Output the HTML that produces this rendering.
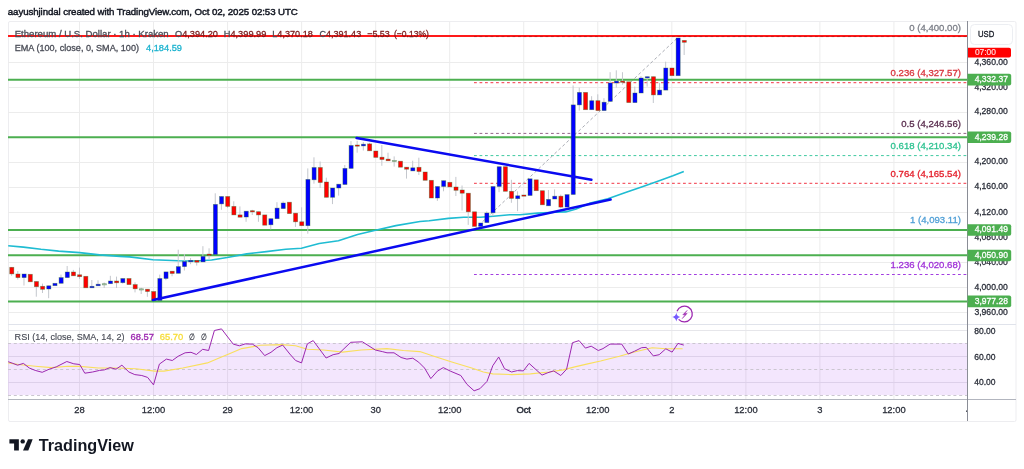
<!DOCTYPE html><html><head><meta charset="utf-8"><style>html,body{margin:0;padding:0;background:#fff;width:1024px;height:469px;overflow:hidden}svg{display:block;will-change:transform}text{font-family:"Liberation Sans",sans-serif}</style></head><body>
<svg width="1024" height="469" viewBox="0 0 1024 469">
<rect x="0" y="0" width="1024" height="469" fill="#fff"/>
<text x="7.8" y="15.2" font-size="9.7" fill="#131722" stroke="#131722" stroke-width="0.45" textLength="290" lengthAdjust="spacing">aayushjindal created with TradingView.com, Oct 02, 2025 02:53 UTC</text>
<rect x="8.5" y="21.5" width="1007.5" height="400" rx="1.5" fill="none" stroke="#ededf0" stroke-width="1"/>
<line x1="79.5" y1="22" x2="79.5" y2="399" stroke="#ececec" stroke-width="1"/>
<line x1="153.54" y1="22" x2="153.54" y2="399" stroke="#ececec" stroke-width="1"/>
<line x1="227.58" y1="22" x2="227.58" y2="399" stroke="#ececec" stroke-width="1"/>
<line x1="301.62" y1="22" x2="301.62" y2="399" stroke="#ececec" stroke-width="1"/>
<line x1="375.66" y1="22" x2="375.66" y2="399" stroke="#ececec" stroke-width="1"/>
<line x1="449.7" y1="22" x2="449.7" y2="399" stroke="#ececec" stroke-width="1"/>
<line x1="523.74" y1="22" x2="523.74" y2="399" stroke="#ececec" stroke-width="1"/>
<line x1="597.78" y1="22" x2="597.78" y2="399" stroke="#ececec" stroke-width="1"/>
<line x1="671.82" y1="22" x2="671.82" y2="399" stroke="#ececec" stroke-width="1"/>
<line x1="745.86" y1="22" x2="745.86" y2="399" stroke="#ececec" stroke-width="1"/>
<line x1="819.9" y1="22" x2="819.9" y2="399" stroke="#ececec" stroke-width="1"/>
<line x1="893.94" y1="22" x2="893.94" y2="399" stroke="#ececec" stroke-width="1"/>
<line x1="8" y1="62.5" x2="967" y2="62.5" stroke="#ececec" stroke-width="1"/>
<line x1="8" y1="87.5" x2="967" y2="87.5" stroke="#ececec" stroke-width="1"/>
<line x1="8" y1="112.5" x2="967" y2="112.5" stroke="#ececec" stroke-width="1"/>
<line x1="8" y1="137.5" x2="967" y2="137.5" stroke="#ececec" stroke-width="1"/>
<line x1="8" y1="162.5" x2="967" y2="162.5" stroke="#ececec" stroke-width="1"/>
<line x1="8" y1="187.5" x2="967" y2="187.5" stroke="#ececec" stroke-width="1"/>
<line x1="8" y1="212.5" x2="967" y2="212.5" stroke="#ececec" stroke-width="1"/>
<line x1="8" y1="237.5" x2="967" y2="237.5" stroke="#ececec" stroke-width="1"/>
<line x1="8" y1="262.5" x2="967" y2="262.5" stroke="#ececec" stroke-width="1"/>
<line x1="8" y1="287.5" x2="967" y2="287.5" stroke="#ececec" stroke-width="1"/>
<line x1="8" y1="312.5" x2="967" y2="312.5" stroke="#ececec" stroke-width="1"/>
<line x1="8" y1="330.5" x2="967" y2="330.5" stroke="#e6e6ea" stroke-width="1"/>
<line x1="8" y1="356.5" x2="967" y2="356.5" stroke="#e6e6ea" stroke-width="1"/>
<line x1="8" y1="382.5" x2="967" y2="382.5" stroke="#e6e6ea" stroke-width="1"/>
<rect x="8" y="343" width="959" height="52" fill="rgb(160,50,240)" fill-opacity="0.12"/>
<line x1="8" y1="343.5" x2="967" y2="343.5" stroke="#cbc6d0" stroke-width="1" stroke-dasharray="3 2.8"/>
<line x1="8" y1="369.5" x2="967" y2="369.5" stroke="#cbc6d0" stroke-width="1" stroke-dasharray="3 2.8"/>
<line x1="8" y1="395.5" x2="967" y2="395.5" stroke="#cbc6d0" stroke-width="1" stroke-dasharray="3 2.8"/>
<line x1="8" y1="324.5" x2="1016" y2="324.5" stroke="#e0e3eb" stroke-width="1"/>
<line x1="8" y1="399.5" x2="1016" y2="399.5" stroke="#b2b5be" stroke-width="1"/>
<line x1="967.5" y1="21" x2="967.5" y2="421" stroke="#8a8d96" stroke-width="1"/>
<line x1="474" y1="82.7" x2="967" y2="82.7" stroke="#f23645" stroke-width="1" stroke-dasharray="2.8 2.7"/>
<line x1="474" y1="133.4" x2="967" y2="133.4" stroke="#94648a" stroke-width="1" stroke-dasharray="2.8 2.7"/>
<line x1="474" y1="155.6" x2="967" y2="155.6" stroke="#3ec9a0" stroke-width="1" stroke-dasharray="2.8 2.7"/>
<line x1="474" y1="183.3" x2="967" y2="183.3" stroke="#f23645" stroke-width="1" stroke-dasharray="2.8 2.7"/>
<line x1="474" y1="229.5" x2="967" y2="229.5" stroke="#3d8fc9" stroke-width="1" stroke-dasharray="2.8 2.7"/>
<line x1="474" y1="274.5" x2="967" y2="274.5" stroke="#a23ee0" stroke-width="1" stroke-dasharray="2.8 2.7"/>
<line x1="474.5" y1="229.3" x2="678" y2="37.4" stroke="#a8abb3" stroke-width="1" stroke-dasharray="3 2.5"/>
<line x1="8" y1="79.8" x2="967" y2="79.8" stroke="#4caf50" stroke-width="2"/>
<line x1="8" y1="137.3" x2="967" y2="137.3" stroke="#4caf50" stroke-width="2"/>
<line x1="8" y1="230" x2="967" y2="230" stroke="#4caf50" stroke-width="2"/>
<line x1="8" y1="255.3" x2="967" y2="255.3" stroke="#4caf50" stroke-width="2"/>
<line x1="8" y1="301.6" x2="967" y2="301.6" stroke="#4caf50" stroke-width="2"/>
<line x1="8" y1="36" x2="967" y2="36" stroke="#ff1a1a" stroke-width="2.2"/>
<line x1="474" y1="36.6" x2="967" y2="36.6" stroke="#8a1010" stroke-opacity="0.45" stroke-width="1" stroke-dasharray="2.8 2.7"/>
<polyline fill="none" stroke="#1fbcd2" stroke-width="1.6" stroke-linejoin="round" points="8.2,245.8 23.4,247.1 41,249.3 58.6,251.1 79.7,252.6 99.6,254.9 120,256.4 129.5,256.9 153,259.8 178.4,260.8 195.9,261 211.6,260 227.2,257.5 246.7,253.9 266.3,251.6 285.8,249.3 301.4,248.2 319.2,243.5 338.4,240.7 357.6,234.5 375.5,230.3 395.9,225.6 420,221.5 429.2,220.7 448.4,218.4 463.7,217.2 480.4,217.3 493.2,216.2 509.8,214.7 520,214.8 537.6,213.1 555.2,212.2 565.7,211.9 576.2,208.9 590.3,203.1 607.9,198.7 625.5,192.5 643,186.4 660.6,180.2 672.9,175.8 683.8,171.4"/>
<line x1="11.63" y1="267.0" x2="11.63" y2="275.8" stroke="#c4c7cd" stroke-width="1"/>
<rect x="9.73" y="267.3" width="4.1" height="6.60" fill="#ff0000" stroke="#2a6a2a" stroke-opacity="0.5" stroke-width="0.7"/>
<line x1="17.80" y1="271.0" x2="17.80" y2="279.5" stroke="#c4c7cd" stroke-width="1"/>
<rect x="15.90" y="274.0" width="4.1" height="3.60" fill="#ff0000" stroke="#2a6a2a" stroke-opacity="0.5" stroke-width="0.7"/>
<line x1="23.97" y1="274.0" x2="23.97" y2="285.5" stroke="#c4c7cd" stroke-width="1"/>
<rect x="22.07" y="274.0" width="4.1" height="3.60" fill="#0000ff" stroke="#2a6a2a" stroke-opacity="0.5" stroke-width="0.7"/>
<rect x="28.24" y="274.3" width="4.1" height="7.50" fill="#ff0000" stroke="#2a6a2a" stroke-opacity="0.5" stroke-width="0.7"/>
<line x1="36.31" y1="281.5" x2="36.31" y2="296.7" stroke="#c4c7cd" stroke-width="1"/>
<rect x="34.41" y="281.5" width="4.1" height="5.20" fill="#ff0000" stroke="#2a6a2a" stroke-opacity="0.5" stroke-width="0.7"/>
<line x1="42.48" y1="283.6" x2="42.48" y2="293.0" stroke="#c4c7cd" stroke-width="1"/>
<rect x="40.58" y="286.3" width="4.1" height="3.00" fill="#ff0000" stroke="#2a6a2a" stroke-opacity="0.5" stroke-width="0.7"/>
<line x1="48.65" y1="285.8" x2="48.65" y2="298.2" stroke="#c4c7cd" stroke-width="1"/>
<rect x="46.75" y="285.8" width="4.1" height="3.20" fill="#0000ff" stroke="#2a6a2a" stroke-opacity="0.5" stroke-width="0.7"/>
<rect x="52.92" y="283.3" width="4.1" height="2.40" fill="#0000ff" stroke="#2a6a2a" stroke-opacity="0.5" stroke-width="0.7"/>
<line x1="60.99" y1="274.6" x2="60.99" y2="283.3" stroke="#c4c7cd" stroke-width="1"/>
<rect x="59.09" y="277.6" width="4.1" height="5.70" fill="#0000ff" stroke="#2a6a2a" stroke-opacity="0.5" stroke-width="0.7"/>
<line x1="67.16" y1="266.0" x2="67.16" y2="277.6" stroke="#c4c7cd" stroke-width="1"/>
<rect x="65.26" y="272.0" width="4.1" height="5.60" fill="#0000ff" stroke="#2a6a2a" stroke-opacity="0.5" stroke-width="0.7"/>
<line x1="73.33" y1="269.9" x2="73.33" y2="275.8" stroke="#c4c7cd" stroke-width="1"/>
<rect x="71.43" y="272.0" width="4.1" height="3.80" fill="#ff0000" stroke="#2a6a2a" stroke-opacity="0.5" stroke-width="0.7"/>
<line x1="79.50" y1="267.6" x2="79.50" y2="279.0" stroke="#c4c7cd" stroke-width="1"/>
<rect x="77.60" y="274.8" width="4.1" height="1.90" fill="#ff0000" stroke="#2a6a2a" stroke-opacity="0.5" stroke-width="0.7"/>
<rect x="83.77" y="276.3" width="4.1" height="11.50" fill="#ff0000" stroke="#2a6a2a" stroke-opacity="0.5" stroke-width="0.7"/>
<line x1="91.84" y1="280.0" x2="91.84" y2="287.8" stroke="#c4c7cd" stroke-width="1"/>
<rect x="89.94" y="286.3" width="4.1" height="1.50" fill="#0000ff" stroke="#2a6a2a" stroke-opacity="0.5" stroke-width="0.7"/>
<line x1="98.01" y1="280.3" x2="98.01" y2="285.8" stroke="#c4c7cd" stroke-width="1"/>
<rect x="96.11" y="284.2" width="4.1" height="1.60" fill="#0000ff" stroke="#2a6a2a" stroke-opacity="0.5" stroke-width="0.7"/>
<line x1="104.18" y1="282.5" x2="104.18" y2="288.0" stroke="#c4c7cd" stroke-width="1"/>
<rect x="102.28" y="283.7" width="4.1" height="1.20" fill="#b9ccb9" stroke="#2a6a2a" stroke-opacity="0.5" stroke-width="0.7"/>
<line x1="110.35" y1="275.8" x2="110.35" y2="283.7" stroke="#c4c7cd" stroke-width="1"/>
<rect x="108.45" y="281.0" width="4.1" height="2.70" fill="#0000ff" stroke="#2a6a2a" stroke-opacity="0.5" stroke-width="0.7"/>
<line x1="116.52" y1="276.6" x2="116.52" y2="288.0" stroke="#c4c7cd" stroke-width="1"/>
<rect x="114.62" y="281.0" width="4.1" height="1.80" fill="#ff0000" stroke="#2a6a2a" stroke-opacity="0.5" stroke-width="0.7"/>
<line x1="122.69" y1="278.5" x2="122.69" y2="283.6" stroke="#c4c7cd" stroke-width="1"/>
<rect x="120.79" y="278.5" width="4.1" height="4.20" fill="#0000ff" stroke="#2a6a2a" stroke-opacity="0.5" stroke-width="0.7"/>
<rect x="126.96" y="278.5" width="4.1" height="6.10" fill="#ff0000" stroke="#2a6a2a" stroke-opacity="0.5" stroke-width="0.7"/>
<line x1="135.03" y1="282.3" x2="135.03" y2="292.4" stroke="#c4c7cd" stroke-width="1"/>
<rect x="133.13" y="284.6" width="4.1" height="4.20" fill="#ff0000" stroke="#2a6a2a" stroke-opacity="0.5" stroke-width="0.7"/>
<line x1="141.20" y1="287.8" x2="141.20" y2="294.0" stroke="#c4c7cd" stroke-width="1"/>
<rect x="139.30" y="288.8" width="4.1" height="1.20" fill="#b9ccb9" stroke="#2a6a2a" stroke-opacity="0.5" stroke-width="0.7"/>
<line x1="147.37" y1="289.2" x2="147.37" y2="296.8" stroke="#c4c7cd" stroke-width="1"/>
<rect x="145.47" y="289.2" width="4.1" height="2.30" fill="#ff0000" stroke="#2a6a2a" stroke-opacity="0.5" stroke-width="0.7"/>
<rect x="151.64" y="291.5" width="4.1" height="9.00" fill="#ff0000" stroke="#2a6a2a" stroke-opacity="0.5" stroke-width="0.7"/>
<line x1="159.71" y1="274.6" x2="159.71" y2="300.5" stroke="#c4c7cd" stroke-width="1"/>
<rect x="157.81" y="278.5" width="4.1" height="22.00" fill="#0000ff" stroke="#2a6a2a" stroke-opacity="0.5" stroke-width="0.7"/>
<line x1="165.88" y1="271.9" x2="165.88" y2="280.2" stroke="#c4c7cd" stroke-width="1"/>
<rect x="163.98" y="271.9" width="4.1" height="6.60" fill="#0000ff" stroke="#2a6a2a" stroke-opacity="0.5" stroke-width="0.7"/>
<line x1="172.05" y1="271.2" x2="172.05" y2="276.3" stroke="#c4c7cd" stroke-width="1"/>
<rect x="170.15" y="271.2" width="4.1" height="2.30" fill="#ff0000" stroke="#2a6a2a" stroke-opacity="0.5" stroke-width="0.7"/>
<line x1="178.22" y1="249.7" x2="178.22" y2="273.3" stroke="#c4c7cd" stroke-width="1"/>
<rect x="176.32" y="266.6" width="4.1" height="6.70" fill="#0000ff" stroke="#2a6a2a" stroke-opacity="0.5" stroke-width="0.7"/>
<line x1="184.39" y1="253.9" x2="184.39" y2="270.5" stroke="#c4c7cd" stroke-width="1"/>
<rect x="182.49" y="261.5" width="4.1" height="5.10" fill="#0000ff" stroke="#2a6a2a" stroke-opacity="0.5" stroke-width="0.7"/>
<line x1="190.56" y1="258.0" x2="190.56" y2="264.2" stroke="#c4c7cd" stroke-width="1"/>
<rect x="188.66" y="260.4" width="4.1" height="1.40" fill="#0000ff" stroke="#2a6a2a" stroke-opacity="0.5" stroke-width="0.7"/>
<line x1="196.73" y1="260.4" x2="196.73" y2="265.6" stroke="#c4c7cd" stroke-width="1"/>
<rect x="194.83" y="260.4" width="4.1" height="1.80" fill="#ff0000" stroke="#2a6a2a" stroke-opacity="0.5" stroke-width="0.7"/>
<line x1="202.90" y1="246.2" x2="202.90" y2="261.9" stroke="#c4c7cd" stroke-width="1"/>
<rect x="201.00" y="256.4" width="4.1" height="5.50" fill="#0000ff" stroke="#2a6a2a" stroke-opacity="0.5" stroke-width="0.7"/>
<line x1="209.07" y1="248.3" x2="209.07" y2="259.4" stroke="#c4c7cd" stroke-width="1"/>
<rect x="207.17" y="254.1" width="4.1" height="1.20" fill="#ff0000" stroke="#2a6a2a" stroke-opacity="0.5" stroke-width="0.7"/>
<line x1="215.24" y1="193.3" x2="215.24" y2="254.5" stroke="#c4c7cd" stroke-width="1"/>
<rect x="213.34" y="204.4" width="4.1" height="50.10" fill="#0000ff" stroke="#2a6a2a" stroke-opacity="0.5" stroke-width="0.7"/>
<line x1="221.41" y1="196.5" x2="221.41" y2="209.8" stroke="#c4c7cd" stroke-width="1"/>
<rect x="219.51" y="196.5" width="4.1" height="7.40" fill="#0000ff" stroke="#2a6a2a" stroke-opacity="0.5" stroke-width="0.7"/>
<line x1="227.58" y1="196.5" x2="227.58" y2="208.0" stroke="#c4c7cd" stroke-width="1"/>
<rect x="225.68" y="196.5" width="4.1" height="9.90" fill="#ff0000" stroke="#2a6a2a" stroke-opacity="0.5" stroke-width="0.7"/>
<line x1="233.75" y1="201.3" x2="233.75" y2="214.9" stroke="#c4c7cd" stroke-width="1"/>
<rect x="231.85" y="206.4" width="4.1" height="8.50" fill="#ff0000" stroke="#2a6a2a" stroke-opacity="0.5" stroke-width="0.7"/>
<line x1="239.92" y1="206.4" x2="239.92" y2="217.2" stroke="#c4c7cd" stroke-width="1"/>
<rect x="238.02" y="214.9" width="4.1" height="2.30" fill="#ff0000" stroke="#2a6a2a" stroke-opacity="0.5" stroke-width="0.7"/>
<line x1="246.09" y1="211.2" x2="246.09" y2="221.8" stroke="#c4c7cd" stroke-width="1"/>
<rect x="244.19" y="211.2" width="4.1" height="5.80" fill="#0000ff" stroke="#2a6a2a" stroke-opacity="0.5" stroke-width="0.7"/>
<line x1="252.26" y1="209.8" x2="252.26" y2="215.0" stroke="#c4c7cd" stroke-width="1"/>
<rect x="250.36" y="210.7" width="4.1" height="1.20" fill="#ff0000" stroke="#2a6a2a" stroke-opacity="0.5" stroke-width="0.7"/>
<line x1="258.43" y1="211.7" x2="258.43" y2="221.8" stroke="#c4c7cd" stroke-width="1"/>
<rect x="256.53" y="211.7" width="4.1" height="3.20" fill="#ff0000" stroke="#2a6a2a" stroke-opacity="0.5" stroke-width="0.7"/>
<rect x="262.70" y="214.9" width="4.1" height="10.30" fill="#ff0000" stroke="#2a6a2a" stroke-opacity="0.5" stroke-width="0.7"/>
<line x1="270.77" y1="218.7" x2="270.77" y2="229.4" stroke="#c4c7cd" stroke-width="1"/>
<rect x="268.87" y="218.7" width="4.1" height="6.10" fill="#0000ff" stroke="#2a6a2a" stroke-opacity="0.5" stroke-width="0.7"/>
<line x1="276.94" y1="202.2" x2="276.94" y2="218.7" stroke="#c4c7cd" stroke-width="1"/>
<rect x="275.04" y="208.1" width="4.1" height="10.60" fill="#0000ff" stroke="#2a6a2a" stroke-opacity="0.5" stroke-width="0.7"/>
<line x1="283.11" y1="201.3" x2="283.11" y2="208.6" stroke="#c4c7cd" stroke-width="1"/>
<rect x="281.21" y="203.0" width="4.1" height="5.60" fill="#0000ff" stroke="#2a6a2a" stroke-opacity="0.5" stroke-width="0.7"/>
<rect x="287.38" y="202.2" width="4.1" height="11.40" fill="#ff0000" stroke="#2a6a2a" stroke-opacity="0.5" stroke-width="0.7"/>
<line x1="295.45" y1="213.2" x2="295.45" y2="226.9" stroke="#c4c7cd" stroke-width="1"/>
<rect x="293.55" y="213.2" width="4.1" height="8.60" fill="#ff0000" stroke="#2a6a2a" stroke-opacity="0.5" stroke-width="0.7"/>
<line x1="301.62" y1="207.3" x2="301.62" y2="225.7" stroke="#c4c7cd" stroke-width="1"/>
<rect x="299.72" y="221.8" width="4.1" height="3.90" fill="#ff0000" stroke="#2a6a2a" stroke-opacity="0.5" stroke-width="0.7"/>
<line x1="307.79" y1="168.4" x2="307.79" y2="233.7" stroke="#c4c7cd" stroke-width="1"/>
<rect x="305.89" y="179.4" width="4.1" height="46.30" fill="#0000ff" stroke="#2a6a2a" stroke-opacity="0.5" stroke-width="0.7"/>
<line x1="313.96" y1="157.3" x2="313.96" y2="183.7" stroke="#c4c7cd" stroke-width="1"/>
<rect x="312.06" y="167.5" width="4.1" height="12.30" fill="#0000ff" stroke="#2a6a2a" stroke-opacity="0.5" stroke-width="0.7"/>
<line x1="320.13" y1="161.5" x2="320.13" y2="188.0" stroke="#c4c7cd" stroke-width="1"/>
<rect x="318.23" y="167.5" width="4.1" height="15.00" fill="#ff0000" stroke="#2a6a2a" stroke-opacity="0.5" stroke-width="0.7"/>
<line x1="326.30" y1="177.7" x2="326.30" y2="197.3" stroke="#c4c7cd" stroke-width="1"/>
<rect x="324.40" y="182.0" width="4.1" height="15.30" fill="#ff0000" stroke="#2a6a2a" stroke-opacity="0.5" stroke-width="0.7"/>
<line x1="332.47" y1="188.0" x2="332.47" y2="204.1" stroke="#c4c7cd" stroke-width="1"/>
<rect x="330.57" y="188.0" width="4.1" height="9.30" fill="#0000ff" stroke="#2a6a2a" stroke-opacity="0.5" stroke-width="0.7"/>
<line x1="338.64" y1="184.2" x2="338.64" y2="195.6" stroke="#c4c7cd" stroke-width="1"/>
<rect x="336.74" y="184.2" width="4.1" height="3.80" fill="#0000ff" stroke="#2a6a2a" stroke-opacity="0.5" stroke-width="0.7"/>
<line x1="344.81" y1="165.0" x2="344.81" y2="184.5" stroke="#c4c7cd" stroke-width="1"/>
<rect x="342.91" y="168.4" width="4.1" height="16.10" fill="#0000ff" stroke="#2a6a2a" stroke-opacity="0.5" stroke-width="0.7"/>
<line x1="350.98" y1="141.1" x2="350.98" y2="168.4" stroke="#c4c7cd" stroke-width="1"/>
<rect x="349.08" y="145.5" width="4.1" height="22.90" fill="#0000ff" stroke="#2a6a2a" stroke-opacity="0.5" stroke-width="0.7"/>
<line x1="357.15" y1="140.8" x2="357.15" y2="152.7" stroke="#c4c7cd" stroke-width="1"/>
<rect x="355.25" y="145.0" width="4.1" height="1.20" fill="#ff0000" stroke="#2a6a2a" stroke-opacity="0.5" stroke-width="0.7"/>
<line x1="363.32" y1="142.0" x2="363.32" y2="150.5" stroke="#c4c7cd" stroke-width="1"/>
<rect x="361.42" y="144.2" width="4.1" height="1.70" fill="#0000ff" stroke="#2a6a2a" stroke-opacity="0.5" stroke-width="0.7"/>
<line x1="369.49" y1="142.8" x2="369.49" y2="150.8" stroke="#c4c7cd" stroke-width="1"/>
<rect x="367.59" y="143.9" width="4.1" height="6.90" fill="#ff0000" stroke="#2a6a2a" stroke-opacity="0.5" stroke-width="0.7"/>
<rect x="373.76" y="151.0" width="4.1" height="6.40" fill="#ff0000" stroke="#2a6a2a" stroke-opacity="0.5" stroke-width="0.7"/>
<line x1="381.83" y1="145.0" x2="381.83" y2="165.8" stroke="#c4c7cd" stroke-width="1"/>
<rect x="379.93" y="157.2" width="4.1" height="2.30" fill="#ff0000" stroke="#2a6a2a" stroke-opacity="0.5" stroke-width="0.7"/>
<line x1="388.00" y1="152.7" x2="388.00" y2="160.8" stroke="#c4c7cd" stroke-width="1"/>
<rect x="386.10" y="159.1" width="4.1" height="1.70" fill="#ff0000" stroke="#2a6a2a" stroke-opacity="0.5" stroke-width="0.7"/>
<line x1="394.17" y1="156.4" x2="394.17" y2="166.6" stroke="#c4c7cd" stroke-width="1"/>
<rect x="392.27" y="160.4" width="4.1" height="1.20" fill="#b9ccb9" stroke="#2a6a2a" stroke-opacity="0.5" stroke-width="0.7"/>
<rect x="398.44" y="161.2" width="4.1" height="6.00" fill="#ff0000" stroke="#2a6a2a" stroke-opacity="0.5" stroke-width="0.7"/>
<line x1="406.51" y1="167.2" x2="406.51" y2="178.6" stroke="#c4c7cd" stroke-width="1"/>
<rect x="404.61" y="167.2" width="4.1" height="2.00" fill="#ff0000" stroke="#2a6a2a" stroke-opacity="0.5" stroke-width="0.7"/>
<line x1="412.68" y1="160.7" x2="412.68" y2="170.9" stroke="#c4c7cd" stroke-width="1"/>
<rect x="410.78" y="167.8" width="4.1" height="3.10" fill="#0000ff" stroke="#2a6a2a" stroke-opacity="0.5" stroke-width="0.7"/>
<line x1="418.85" y1="157.7" x2="418.85" y2="175.0" stroke="#c4c7cd" stroke-width="1"/>
<rect x="416.95" y="167.3" width="4.1" height="4.20" fill="#ff0000" stroke="#2a6a2a" stroke-opacity="0.5" stroke-width="0.7"/>
<rect x="423.12" y="172.0" width="4.1" height="8.30" fill="#ff0000" stroke="#2a6a2a" stroke-opacity="0.5" stroke-width="0.7"/>
<rect x="429.29" y="180.3" width="4.1" height="17.70" fill="#ff0000" stroke="#2a6a2a" stroke-opacity="0.5" stroke-width="0.7"/>
<line x1="437.36" y1="186.5" x2="437.36" y2="200.9" stroke="#c4c7cd" stroke-width="1"/>
<rect x="435.46" y="186.5" width="4.1" height="11.50" fill="#0000ff" stroke="#2a6a2a" stroke-opacity="0.5" stroke-width="0.7"/>
<line x1="443.53" y1="180.7" x2="443.53" y2="191.3" stroke="#c4c7cd" stroke-width="1"/>
<rect x="441.63" y="180.7" width="4.1" height="5.80" fill="#0000ff" stroke="#2a6a2a" stroke-opacity="0.5" stroke-width="0.7"/>
<rect x="447.80" y="182.3" width="4.1" height="4.60" fill="#ff0000" stroke="#2a6a2a" stroke-opacity="0.5" stroke-width="0.7"/>
<line x1="455.87" y1="176.9" x2="455.87" y2="196.0" stroke="#c4c7cd" stroke-width="1"/>
<rect x="453.97" y="187.0" width="4.1" height="3.30" fill="#ff0000" stroke="#2a6a2a" stroke-opacity="0.5" stroke-width="0.7"/>
<line x1="462.04" y1="185.5" x2="462.04" y2="210.5" stroke="#c4c7cd" stroke-width="1"/>
<rect x="460.14" y="190.0" width="4.1" height="3.20" fill="#ff0000" stroke="#2a6a2a" stroke-opacity="0.5" stroke-width="0.7"/>
<line x1="468.21" y1="193.2" x2="468.21" y2="224.9" stroke="#c4c7cd" stroke-width="1"/>
<rect x="466.31" y="193.2" width="4.1" height="18.60" fill="#ff0000" stroke="#2a6a2a" stroke-opacity="0.5" stroke-width="0.7"/>
<rect x="472.48" y="211.8" width="4.1" height="14.60" fill="#ff0000" stroke="#2a6a2a" stroke-opacity="0.5" stroke-width="0.7"/>
<rect x="478.65" y="223.0" width="4.1" height="3.40" fill="#0000ff" stroke="#2a6a2a" stroke-opacity="0.5" stroke-width="0.7"/>
<line x1="486.72" y1="211.4" x2="486.72" y2="222.6" stroke="#c4c7cd" stroke-width="1"/>
<rect x="484.82" y="213.0" width="4.1" height="9.60" fill="#0000ff" stroke="#2a6a2a" stroke-opacity="0.5" stroke-width="0.7"/>
<line x1="492.89" y1="186.5" x2="492.89" y2="216.2" stroke="#c4c7cd" stroke-width="1"/>
<rect x="490.99" y="186.5" width="4.1" height="26.30" fill="#0000ff" stroke="#2a6a2a" stroke-opacity="0.5" stroke-width="0.7"/>
<line x1="499.06" y1="166.7" x2="499.06" y2="192.2" stroke="#c4c7cd" stroke-width="1"/>
<rect x="497.16" y="166.7" width="4.1" height="19.80" fill="#0000ff" stroke="#2a6a2a" stroke-opacity="0.5" stroke-width="0.7"/>
<rect x="503.33" y="166.7" width="4.1" height="24.60" fill="#ff0000" stroke="#2a6a2a" stroke-opacity="0.5" stroke-width="0.7"/>
<line x1="511.40" y1="179.8" x2="511.40" y2="202.8" stroke="#c4c7cd" stroke-width="1"/>
<rect x="509.50" y="191.3" width="4.1" height="7.10" fill="#ff0000" stroke="#2a6a2a" stroke-opacity="0.5" stroke-width="0.7"/>
<line x1="517.57" y1="191.3" x2="517.57" y2="211.2" stroke="#c4c7cd" stroke-width="1"/>
<rect x="515.67" y="195.8" width="4.1" height="2.90" fill="#0000ff" stroke="#2a6a2a" stroke-opacity="0.5" stroke-width="0.7"/>
<rect x="521.84" y="195.0" width="4.1" height="1.20" fill="#ff0000" stroke="#2a6a2a" stroke-opacity="0.5" stroke-width="0.7"/>
<rect x="528.01" y="178.8" width="4.1" height="16.70" fill="#0000ff" stroke="#2a6a2a" stroke-opacity="0.5" stroke-width="0.7"/>
<rect x="534.18" y="179.8" width="4.1" height="10.90" fill="#ff0000" stroke="#2a6a2a" stroke-opacity="0.5" stroke-width="0.7"/>
<rect x="540.35" y="190.7" width="4.1" height="14.10" fill="#ff0000" stroke="#2a6a2a" stroke-opacity="0.5" stroke-width="0.7"/>
<line x1="548.42" y1="190.0" x2="548.42" y2="205.8" stroke="#c4c7cd" stroke-width="1"/>
<rect x="546.52" y="199.4" width="4.1" height="6.40" fill="#0000ff" stroke="#2a6a2a" stroke-opacity="0.5" stroke-width="0.7"/>
<line x1="554.59" y1="189.4" x2="554.59" y2="199.0" stroke="#c4c7cd" stroke-width="1"/>
<rect x="552.69" y="196.2" width="4.1" height="2.80" fill="#0000ff" stroke="#2a6a2a" stroke-opacity="0.5" stroke-width="0.7"/>
<line x1="560.76" y1="194.6" x2="560.76" y2="208.4" stroke="#c4c7cd" stroke-width="1"/>
<rect x="558.86" y="196.2" width="4.1" height="10.90" fill="#ff0000" stroke="#2a6a2a" stroke-opacity="0.5" stroke-width="0.7"/>
<rect x="565.03" y="194.6" width="4.1" height="12.50" fill="#0000ff" stroke="#2a6a2a" stroke-opacity="0.5" stroke-width="0.7"/>
<line x1="573.10" y1="85.4" x2="573.10" y2="194.5" stroke="#c4c7cd" stroke-width="1"/>
<rect x="571.20" y="104.9" width="4.1" height="89.60" fill="#0000ff" stroke="#2a6a2a" stroke-opacity="0.5" stroke-width="0.7"/>
<line x1="579.27" y1="87.6" x2="579.27" y2="110.6" stroke="#c4c7cd" stroke-width="1"/>
<rect x="577.37" y="92.4" width="4.1" height="12.50" fill="#0000ff" stroke="#2a6a2a" stroke-opacity="0.5" stroke-width="0.7"/>
<rect x="583.54" y="92.4" width="4.1" height="17.30" fill="#ff0000" stroke="#2a6a2a" stroke-opacity="0.5" stroke-width="0.7"/>
<line x1="591.61" y1="96.2" x2="591.61" y2="109.7" stroke="#c4c7cd" stroke-width="1"/>
<rect x="589.71" y="100.7" width="4.1" height="9.00" fill="#0000ff" stroke="#2a6a2a" stroke-opacity="0.5" stroke-width="0.7"/>
<line x1="597.78" y1="94.3" x2="597.78" y2="110.6" stroke="#c4c7cd" stroke-width="1"/>
<rect x="595.88" y="100.7" width="4.1" height="9.90" fill="#ff0000" stroke="#2a6a2a" stroke-opacity="0.5" stroke-width="0.7"/>
<line x1="603.95" y1="98.2" x2="603.95" y2="110.6" stroke="#c4c7cd" stroke-width="1"/>
<rect x="602.05" y="102.2" width="4.1" height="8.40" fill="#0000ff" stroke="#2a6a2a" stroke-opacity="0.5" stroke-width="0.7"/>
<line x1="610.12" y1="72.2" x2="610.12" y2="101.4" stroke="#c4c7cd" stroke-width="1"/>
<rect x="608.22" y="83.0" width="4.1" height="18.40" fill="#0000ff" stroke="#2a6a2a" stroke-opacity="0.5" stroke-width="0.7"/>
<line x1="616.29" y1="70.3" x2="616.29" y2="87.6" stroke="#c4c7cd" stroke-width="1"/>
<rect x="614.39" y="81.1" width="4.1" height="1.90" fill="#0000ff" stroke="#2a6a2a" stroke-opacity="0.5" stroke-width="0.7"/>
<line x1="622.46" y1="72.2" x2="622.46" y2="84.7" stroke="#c4c7cd" stroke-width="1"/>
<rect x="620.56" y="81.1" width="4.1" height="1.20" fill="#ff0000" stroke="#2a6a2a" stroke-opacity="0.5" stroke-width="0.7"/>
<rect x="626.73" y="81.8" width="4.1" height="20.80" fill="#ff0000" stroke="#2a6a2a" stroke-opacity="0.5" stroke-width="0.7"/>
<line x1="634.80" y1="86.6" x2="634.80" y2="102.6" stroke="#c4c7cd" stroke-width="1"/>
<rect x="632.90" y="93.0" width="4.1" height="9.60" fill="#0000ff" stroke="#2a6a2a" stroke-opacity="0.5" stroke-width="0.7"/>
<line x1="640.97" y1="76.1" x2="640.97" y2="93.0" stroke="#c4c7cd" stroke-width="1"/>
<rect x="639.07" y="78.0" width="4.1" height="15.00" fill="#0000ff" stroke="#2a6a2a" stroke-opacity="0.5" stroke-width="0.7"/>
<line x1="647.14" y1="76.7" x2="647.14" y2="86.6" stroke="#c4c7cd" stroke-width="1"/>
<rect x="645.24" y="76.7" width="4.1" height="1.20" fill="#0000ff" stroke="#2a6a2a" stroke-opacity="0.5" stroke-width="0.7"/>
<line x1="653.31" y1="76.7" x2="653.31" y2="103.0" stroke="#c4c7cd" stroke-width="1"/>
<rect x="651.41" y="76.7" width="4.1" height="18.20" fill="#ff0000" stroke="#2a6a2a" stroke-opacity="0.5" stroke-width="0.7"/>
<line x1="659.48" y1="82.8" x2="659.48" y2="94.9" stroke="#c4c7cd" stroke-width="1"/>
<rect x="657.58" y="90.1" width="4.1" height="4.80" fill="#0000ff" stroke="#2a6a2a" stroke-opacity="0.5" stroke-width="0.7"/>
<line x1="665.65" y1="61.7" x2="665.65" y2="90.1" stroke="#c4c7cd" stroke-width="1"/>
<rect x="663.75" y="68.0" width="4.1" height="22.10" fill="#0000ff" stroke="#2a6a2a" stroke-opacity="0.5" stroke-width="0.7"/>
<rect x="669.92" y="68.0" width="4.1" height="7.70" fill="#ff0000" stroke="#2a6a2a" stroke-opacity="0.5" stroke-width="0.7"/>
<rect x="676.09" y="38.0" width="4.1" height="37.70" fill="#0000ff" stroke="#2a6a2a" stroke-opacity="0.5" stroke-width="0.7"/>
<line x1="684.16" y1="40.4" x2="684.16" y2="55.0" stroke="#c4c7cd" stroke-width="1"/>
<rect x="682.26" y="40.4" width="4.1" height="1.90" fill="#ff0000" stroke="#2a6a2a" stroke-opacity="0.5" stroke-width="0.7"/>
<line x1="153" y1="300" x2="610.6" y2="199.5" stroke="#0a0af0" stroke-width="2.5" stroke-linecap="round"/>
<line x1="356.6" y1="138" x2="591.4" y2="179.8" stroke="#0a0af0" stroke-width="2.5" stroke-linecap="round"/>
<text x="961" y="30.9" font-size="9.6" fill="#7c7f88" stroke="#7c7f88" stroke-width="0.3" text-anchor="end">0 (4,400.00)</text>
<text x="961" y="75.60000000000001" font-size="9.6" fill="#d9353e" stroke="#d9353e" stroke-width="0.3" text-anchor="end">0.236 (4,327.57)</text>
<text x="961" y="126.80000000000001" font-size="9.6" fill="#5a2d4e" stroke="#5a2d4e" stroke-width="0.3" text-anchor="end">0.5 (4,246.56)</text>
<text x="961" y="149.3" font-size="9.6" fill="#2fc392" stroke="#2fc392" stroke-width="0.3" text-anchor="end">0.618 (4,210.34)</text>
<text x="961" y="176.70000000000002" font-size="9.6" fill="#e41e2a" stroke="#e41e2a" stroke-width="0.3" text-anchor="end">0.764 (4,165.54)</text>
<text x="961" y="223.20000000000002" font-size="9.6" fill="#4f9fd6" stroke="#4f9fd6" stroke-width="0.3" text-anchor="end">1 (4,093.11)</text>
<text x="961" y="268.09999999999997" font-size="9.6" fill="#a032d8" stroke="#a032d8" stroke-width="0.3" text-anchor="end">1.236 (4,020.68)</text>
<text x="14.7" y="36.6" font-size="9.4" fill="#4a4d57" stroke="#4a4d57" stroke-width="0.3" textLength="154" lengthAdjust="spacingAndGlyphs">Ethereum / U.S. Dollar · 1h · Kraken</text>
<text x="175" y="36.6" font-size="9.4" fill="#4a4d57" stroke="#4a4d57" stroke-width="0.3" textLength="43" lengthAdjust="spacingAndGlyphs">O<tspan fill="#7a1c1c" stroke="#7a1c1c">4,394.20</tspan></text>
<text x="223.7" y="36.6" font-size="9.4" fill="#4a4d57" stroke="#4a4d57" stroke-width="0.3" textLength="42.7" lengthAdjust="spacingAndGlyphs">H<tspan fill="#7a1c1c" stroke="#7a1c1c">4,399.99</tspan></text>
<text x="272.3" y="36.6" font-size="9.4" fill="#4a4d57" stroke="#4a4d57" stroke-width="0.3" textLength="40.5" lengthAdjust="spacingAndGlyphs">L<tspan fill="#7a1c1c" stroke="#7a1c1c">4,370.18</tspan></text>
<text x="319.4" y="36.6" font-size="9.4" fill="#4a4d57" stroke="#4a4d57" stroke-width="0.3" textLength="41.8" lengthAdjust="spacingAndGlyphs">C<tspan fill="#7a1c1c" stroke="#7a1c1c">4,391.43</tspan></text>
<text x="367.2" y="36.6" font-size="9.4" fill="#7a1c1c" stroke="#7a1c1c" stroke-width="0.3" textLength="22.6" lengthAdjust="spacingAndGlyphs">−5.53</text>
<text x="394" y="36.6" font-size="9.4" fill="#7a1c1c" stroke="#7a1c1c" stroke-width="0.3" textLength="34.8" lengthAdjust="spacingAndGlyphs">(−0.13%)</text>
<text x="14.7" y="50.6" font-size="9.4" fill="#4a4d57" stroke="#4a4d57" stroke-width="0.3" textLength="124.3" lengthAdjust="spacingAndGlyphs">EMA (100, close, 0, SMA, 100)</text>
<text x="146" y="50.6" font-size="9.4" fill="#1cb3cf" stroke="#1cb3cf" stroke-width="0.3" textLength="36" lengthAdjust="spacingAndGlyphs">4,184.59</text>
<text x="974.4" y="64.5" font-size="9.4" fill="#2a2e39" stroke="#2a2e39" stroke-width="0.3" textLength="33.5" lengthAdjust="spacingAndGlyphs">4,360.00</text>
<text x="974.4" y="89.6" font-size="9.4" fill="#2a2e39" stroke="#2a2e39" stroke-width="0.3" textLength="33.5" lengthAdjust="spacingAndGlyphs">4,320.00</text>
<text x="974.4" y="114.4" font-size="9.4" fill="#2a2e39" stroke="#2a2e39" stroke-width="0.3" textLength="33.5" lengthAdjust="spacingAndGlyphs">4,280.00</text>
<text x="974.4" y="164.0" font-size="9.4" fill="#2a2e39" stroke="#2a2e39" stroke-width="0.3" textLength="33.5" lengthAdjust="spacingAndGlyphs">4,200.00</text>
<text x="974.4" y="189.3" font-size="9.4" fill="#2a2e39" stroke="#2a2e39" stroke-width="0.3" textLength="33.5" lengthAdjust="spacingAndGlyphs">4,160.00</text>
<text x="974.4" y="214.6" font-size="9.4" fill="#2a2e39" stroke="#2a2e39" stroke-width="0.3" textLength="33.5" lengthAdjust="spacingAndGlyphs">4,120.00</text>
<text x="974.4" y="239.7" font-size="9.4" fill="#2a2e39" stroke="#2a2e39" stroke-width="0.3" textLength="33.5" lengthAdjust="spacingAndGlyphs">4,080.00</text>
<text x="974.4" y="264.5" font-size="9.4" fill="#2a2e39" stroke="#2a2e39" stroke-width="0.3" textLength="33.5" lengthAdjust="spacingAndGlyphs">4,040.00</text>
<text x="974.4" y="289.5" font-size="9.4" fill="#2a2e39" stroke="#2a2e39" stroke-width="0.3" textLength="33.5" lengthAdjust="spacingAndGlyphs">4,000.00</text>
<text x="974.4" y="314.7" font-size="9.4" fill="#2a2e39" stroke="#2a2e39" stroke-width="0.3" textLength="33.5" lengthAdjust="spacingAndGlyphs">3,960.00</text>
<text x="974.2" y="333.6" font-size="9.4" fill="#2a2e39" stroke="#2a2e39" stroke-width="0.3" textLength="21.3" lengthAdjust="spacingAndGlyphs">80.00</text>
<text x="974.2" y="359.6" font-size="9.4" fill="#2a2e39" stroke="#2a2e39" stroke-width="0.3" textLength="21.3" lengthAdjust="spacingAndGlyphs">60.00</text>
<text x="974.2" y="385.4" font-size="9.4" fill="#2a2e39" stroke="#2a2e39" stroke-width="0.3" textLength="21.3" lengthAdjust="spacingAndGlyphs">40.00</text>
<path d="M967.5 73.8 H1009.2 a2 2 0 0 1 2 2 V83.39999999999999 a2 2 0 0 1 -2 2 H967.5 Z" fill="#4caf50"/>
<text x="974.7" y="81.8" font-size="9.4" fill="#ffffff" stroke="#ffffff" stroke-width="0.3" textLength="33.2" lengthAdjust="spacingAndGlyphs">4,332.37</text>
<path d="M967.5 131.5 H1009.2 a2 2 0 0 1 2 2 V141.10000000000002 a2 2 0 0 1 -2 2 H967.5 Z" fill="#4caf50"/>
<text x="974.7" y="139.5" font-size="9.4" fill="#ffffff" stroke="#ffffff" stroke-width="0.3" textLength="33.2" lengthAdjust="spacingAndGlyphs">4,239.28</text>
<path d="M967.5 224.2 H1009.2 a2 2 0 0 1 2 2 V233.8 a2 2 0 0 1 -2 2 H967.5 Z" fill="#4caf50"/>
<text x="974.7" y="232.2" font-size="9.4" fill="#ffffff" stroke="#ffffff" stroke-width="0.3" textLength="33.2" lengthAdjust="spacingAndGlyphs">4,091.49</text>
<path d="M967.5 249.7 H1009.2 a2 2 0 0 1 2 2 V259.3 a2 2 0 0 1 -2 2 H967.5 Z" fill="#4caf50"/>
<text x="974.7" y="257.7" font-size="9.4" fill="#ffffff" stroke="#ffffff" stroke-width="0.3" textLength="33.2" lengthAdjust="spacingAndGlyphs">4,050.90</text>
<path d="M967.5 295.59999999999997 H1009.2 a2 2 0 0 1 2 2 V305.2 a2 2 0 0 1 -2 2 H967.5 Z" fill="#4caf50"/>
<text x="974.7" y="303.6" font-size="9.4" fill="#ffffff" stroke="#ffffff" stroke-width="0.3" textLength="33.2" lengthAdjust="spacingAndGlyphs">3,977.28</text>
<rect x="970.5" y="24.5" width="42" height="20" rx="4" fill="#fff" stroke="#eceef2" stroke-width="1"/>
<text x="978" y="37.3" font-size="9.4" fill="#131722" stroke="#131722" stroke-width="0.3" textLength="16.3" lengthAdjust="spacingAndGlyphs">USD</text>
<path d="M968 47.7 H1009 a2 2 0 0 1 2 2 V55.6 a2 2 0 0 1 -2 2 H968 Z" fill="#ff0000"/>
<text x="974.9" y="54.6" font-size="9.4" fill="#ffe0e0" stroke="#ffe0e0" stroke-width="0.15" textLength="21.1" lengthAdjust="spacingAndGlyphs">07:00</text>
<polyline fill="none" stroke="#f9df5c" stroke-width="1.1" stroke-linejoin="round" points="8.2,362.9 18.7,364.5 35.2,366.2 51.6,367.6 68,366.2 79.7,366.4 98.4,368 117.2,368 135.9,368.7 154.7,371.1 164,371.1 182.8,368 207.4,362.9 220.3,357.5 230,353.5 241.7,348.6 260.5,345.3 281.6,344.6 295.6,345.8 307.3,349.3 323.7,350 342.5,352.1 361.2,350 387,348.6 403.4,350.5 419.8,351.6 433.9,356.3 452.6,362.2 471.7,368 483.4,372 492.8,373.9 511.6,374.6 530.3,373.9 549.1,372 563.1,369.9 574.8,366.9 586.6,364.1 600.6,361 619.4,356.3 633.4,352.3 652.2,347.7 666.2,348.8 682.6,348.8"/>
<polyline fill="none" stroke="#9c27b0" stroke-width="1.0" stroke-linejoin="round" points="8.2,361.7 12.9,363.4 17.6,365.2 23.4,363.4 29.3,368 35.2,370.4 42.2,372.3 49.2,369.2 56.2,366.9 66.8,361.5 73.8,363.8 79.7,364.5 84.8,373.2 92.6,372 99.6,370.4 104.3,369.9 110.1,367.6 116,369.2 121.9,365.2 128.9,372 134.8,374.6 141.8,375.5 147.6,377.4 153.5,384.9 159.4,364.1 166.4,359.1 172.3,360.5 178.1,356.3 185.1,352.8 191,352.3 196.4,354.5 202.7,349.3 208.6,350.5 214.4,330.5 221.5,328.9 233.2,344.1 239.4,345.8 245.2,343.9 252.3,344.1 258.1,347.7 264.7,355.6 271,352.3 276.9,347.7 282.7,345.1 289.8,354 295.6,360.5 301.5,362.9 307.3,343.9 313.2,340.6 326.1,358 333.1,354.7 339,353.5 350.7,342.3 362.4,341.8 375.3,350 382.3,351.6 387,352.8 394,352.8 401.1,357.5 406.9,359.1 412.8,358.2 418.7,362.2 424.5,368 430.8,378.6 437.4,371.1 443.3,367.6 450.3,371.1 460.8,375.5 467,384.4 474.1,390.8 479.9,388.7 487,381.4 492.8,365.7 498.7,357 504.5,368.7 511.6,372 517.4,370.6 523.3,370.9 529.1,363.4 542,375.1 547.9,372.7 553.7,370.9 560.8,375.5 566.6,369.2 572.5,342.7 579.1,340.6 585.4,348.1 591.2,346.2 598.3,350.5 603,348.6 610,344.1 621.7,344.1 628.3,354 634.6,351.2 641.6,347.7 646.3,347.4 653.3,355.9 659.2,354.7 665.8,348.8 672.1,352.1 678,343.4 683.8,345.1"/>
<text x="14.6" y="340.4" font-size="9.4" fill="#4a4d57" stroke="#4a4d57" stroke-width="0.15" textLength="110" lengthAdjust="spacingAndGlyphs">RSI (14, close, SMA, 14, 2)</text>
<text x="130.6" y="340.4" font-size="9.4" fill="#9c27b0" stroke="#9c27b0" stroke-width="0.3" textLength="23.4" lengthAdjust="spacingAndGlyphs">68.57</text>
<text x="159.8" y="340.4" font-size="9.4" fill="#f7dd3a" stroke="#f7dd3a" stroke-width="0.3" textLength="23.5" lengthAdjust="spacingAndGlyphs">65.70</text>
<text x="188.7" y="340.4" font-size="9.4" fill="#4a4d57" stroke="#4a4d57" stroke-width="0.3" textLength="6" lengthAdjust="spacingAndGlyphs">∅</text>
<text x="201.2" y="340.4" font-size="9.4" fill="#4a4d57" stroke="#4a4d57" stroke-width="0.3" textLength="6" lengthAdjust="spacingAndGlyphs">∅</text>
<text x="79.5" y="412.6" font-size="9.4" fill="#2a2e39" stroke="#2a2e39" stroke-width="0.28" text-anchor="middle">28</text>
<text x="153.5" y="412.6" font-size="9.4" fill="#2a2e39" stroke="#2a2e39" stroke-width="0.28" text-anchor="middle">12:00</text>
<text x="227.6" y="412.6" font-size="9.4" fill="#2a2e39" stroke="#2a2e39" stroke-width="0.28" text-anchor="middle">29</text>
<text x="301.6" y="412.6" font-size="9.4" fill="#2a2e39" stroke="#2a2e39" stroke-width="0.28" text-anchor="middle">12:00</text>
<text x="375.7" y="412.6" font-size="9.4" fill="#2a2e39" stroke="#2a2e39" stroke-width="0.28" text-anchor="middle">30</text>
<text x="449.7" y="412.6" font-size="9.4" fill="#2a2e39" stroke="#2a2e39" stroke-width="0.28" text-anchor="middle">12:00</text>
<text x="523.7" y="412.6" font-size="9.4" fill="#2a2e39" stroke="#2a2e39" stroke-width="0.5" text-anchor="middle">Oct</text>
<text x="597.8" y="412.6" font-size="9.4" fill="#2a2e39" stroke="#2a2e39" stroke-width="0.28" text-anchor="middle">12:00</text>
<text x="671.8" y="412.6" font-size="9.4" fill="#2a2e39" stroke="#2a2e39" stroke-width="0.28" text-anchor="middle">2</text>
<text x="745.9" y="412.6" font-size="9.4" fill="#2a2e39" stroke="#2a2e39" stroke-width="0.28" text-anchor="middle">12:00</text>
<text x="819.9" y="412.6" font-size="9.4" fill="#2a2e39" stroke="#2a2e39" stroke-width="0.28" text-anchor="middle">3</text>
<text x="893.9" y="412.6" font-size="9.4" fill="#2a2e39" stroke="#2a2e39" stroke-width="0.28" text-anchor="middle">12:00</text>
<clipPath id="tc"><rect x="900" y="400" width="67" height="20"/></clipPath>
<text x="968.6" y="412.6" font-size="9.4" fill="#2a2e39" stroke="#2a2e39" stroke-width="0.28" text-anchor="middle" clip-path="url(#tc)">4</text>
<g fill="none" stroke="#9c27b0" stroke-width="1.3"><path d="M677 311.2 A7.9 7.9 0 1 1 678.6 319.4"/></g>
<path d="M687.2 310.4 L682.8 314.8 L685.4 314.8 L682.2 318.6 L687.1 313.5 L684.6 313.5 Z" fill="#9c27b0" stroke="#9c27b0" stroke-width="0.5" stroke-linejoin="round"/>
<path d="M676.3 312.7 Q677 316.4 680.4 317.1 Q677 317.8 676.3 321.5 Q675.6 317.8 672.2 317.1 Q675.6 316.4 676.3 312.7 Z" fill="#7458ff"/>
<g fill="#131722"><path d="M9.4 439.2 H18.85 V450.6 H14.1 V443.6 H9.4 Z"/><circle cx="22.7" cy="441.4" r="2.2"/><path d="M28 439.2 H32.7 L28.3 450.6 H23 Z"/></g>
<text x="38.8" y="451" font-size="16.4" font-weight="bold" fill="#131722" textLength="95" lengthAdjust="spacingAndGlyphs">TradingView</text>
</svg></body></html>
